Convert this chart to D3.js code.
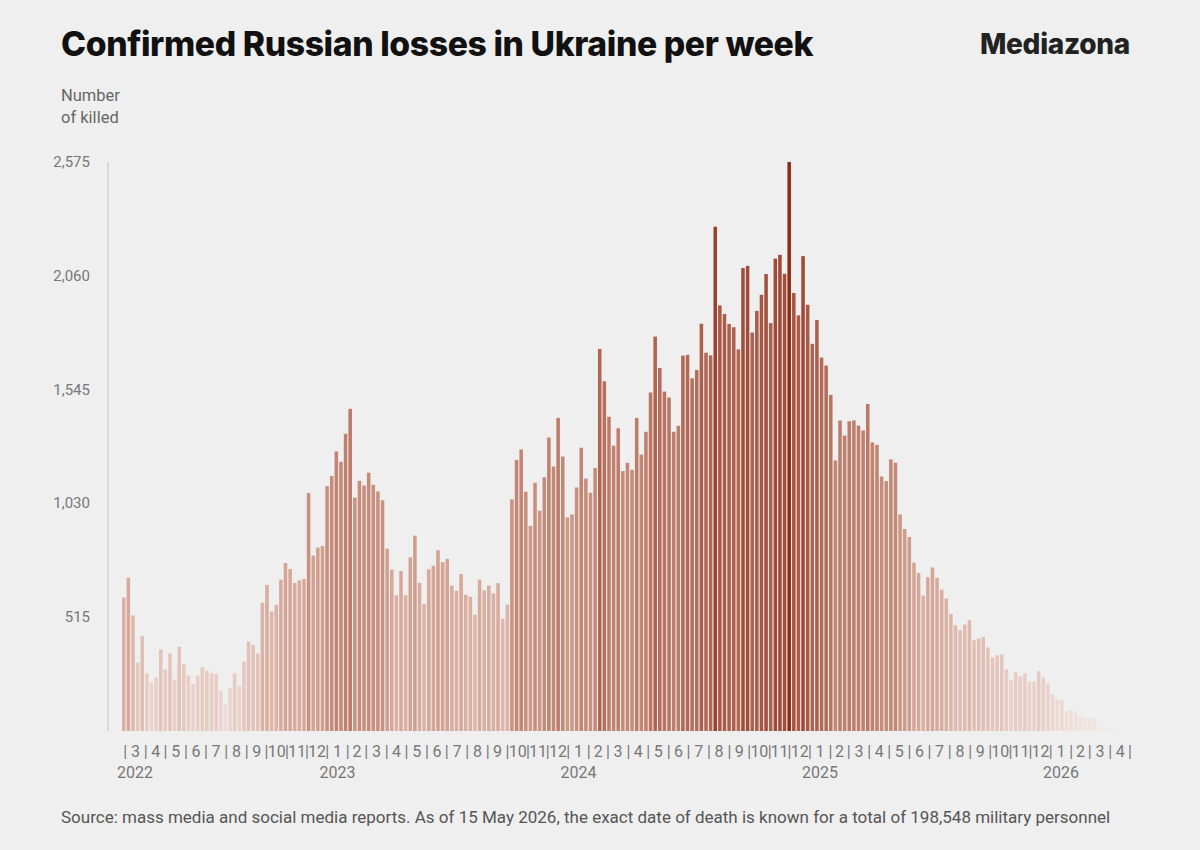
<!DOCTYPE html>
<html>
<head>
<meta charset="utf-8">
<script src="https://cdn.jsdelivr.net/npm/d3@7"></script>
<style>
  body { margin: 0; background: #efefef; }
  svg { display: block; }
</style>
</head>
<body>
<div id="chart-area"></div>
<script>
/*
*    weekly losses chart
*/

// weekly counts, first week starts 24 Feb 2022
var losses = [
    604, 694, 523, 309, 429, 261, 218, 242, 369, 279,
    351, 233, 381, 303, 251, 212, 251, 288, 273, 261,
    258, 182, 122, 194, 261, 203, 315, 405, 390, 351,
    580, 661, 541, 571, 685, 760, 733, 670, 682, 688,
    1077, 794, 830, 837, 1108, 1154, 1265, 1218, 1345, 1458,
    1056, 1132, 1111, 1169, 1114, 1084, 1044, 825, 730, 614,
    724, 614, 786, 884, 670, 575, 732, 748, 818, 764,
    779, 658, 634, 711, 617, 608, 526, 685, 636, 658,
    623, 669, 508, 572, 1048, 1227, 1274, 1083, 928, 1123,
    997, 1148, 1328, 1197, 1417, 1242, 967, 980, 1102, 1282,
    1142, 1078, 1190, 1729, 1583, 1422, 1291, 1370, 1176, 1214,
    1182, 1417, 1251, 1354, 1532, 1785, 1643, 1536, 1509, 1354,
    1381, 1699, 1702, 1596, 1634, 1843, 1712, 1700, 2282, 1926,
    1887, 1842, 1827, 1727, 2095, 2105, 1803, 1901, 1974, 2068,
    1846, 2138, 2155, 2069, 2575, 1982, 1881, 2149, 1929, 1752,
    1860, 1690, 1654, 1521, 1224, 1405, 1337, 1402, 1405, 1382,
    1360, 1480, 1306, 1295, 1152, 1131, 1229, 1214, 980, 914,
    878, 762, 715, 613, 696, 740, 693, 640, 599, 530,
    479, 456, 482, 501, 411, 419, 426, 378, 333, 343,
    346, 279, 230, 265, 248, 261, 224, 224, 270, 243,
    215, 167, 143, 140, 90, 95, 83, 65, 57, 60,
    57, 23, 12, 12, 8, 5, 3, 2, 1
];
var yTicks = [515, 1030, 1545, 2060, 2575];
var years = ["2022", "2023", "2024", "2025", "2026"];

var title = "Confirmed Russian losses in Ukraine per week";
var source = "Source: mass media and social media reports. As of 15 May 2026, the exact date of death is known for a total of 198,548 military personnel";

var start = new Date(2022, 1, 24);
var weeks = losses.map((d, i)=>{ return d3.timeDay.offset(start, i * 7); });
var end = d3.timeDay.offset(start, losses.length * 7);

var svg = d3.select("#chart-area").append("svg")
    .attr("width", 1200)
    .attr("height", 850);

svg.append("rect")
    .attr("width", 1200)
    .attr("height", 850)
    .attr("fill", "#efefef");

var x = d3.scaleTime()
    .domain([start, end])
    .range([122, 1134]);

var y = d3.scaleLinear()
    .domain([0, 2575])
    .range([731, 162]);

var color = d3.scaleLinear()
    .domain([0, 300, 800, 1500, 2575])
    .range(["#f3e8e4", "#e6c8bf", "#d3a191", "#bb7664", "#8c2d18"]);

var step = x(weeks[1]) - x(weeks[0]);

// title and logo
var t = svg.append("text")
    .attr("x", 61)
    .attr("y", 56)
    .attr("font-family", "Inter")
    .attr("font-weight", 800)
    .attr("font-size", 34)
    .attr("letter-spacing", -0.4)
    .attr("fill", "#111")
    .text(title);
var tw = t.node().getComputedTextLength();
if (tw > 752) t.attr("textLength", 752).attr("lengthAdjust", "spacingAndGlyphs");

svg.append("text")
    .attr("x", 1130)
    .attr("y", 54)
    .attr("text-anchor", "end")
    .attr("font-family", "Inter")
    .attr("font-weight", 800)
    .attr("font-size", 28)
    .attr("letter-spacing", -0.3)
    .attr("fill", "#222")
    .text("Mediazona");

svg.append("text")
    .attr("font-family", "Roboto")
    .attr("font-size", 16.5)
    .attr("fill", "#666")
    .selectAll("tspan")
    .data(["Number", "of killed"])
    .enter()
    .append("tspan")
        .attr("x", 61)
        .attr("y", (d, i)=>{ return 101 + i * 22; })
        .text((d)=>{ return d; });

// y axis
svg.append("line")
    .attr("x1", 108).attr("x2", 108)
    .attr("y1", y(2575)).attr("y2", y(0))
    .attr("stroke", "#c4c4c4")
    .attr("stroke-width", 1);

svg.selectAll(".ytick")
    .data(yTicks)
    .enter()
    .append("text")
        .attr("class", "ytick")
        .attr("x", 90)
        .attr("y", (d)=>{ return y(d) + 5; })
        .attr("text-anchor", "end")
        .attr("font-family", "Roboto")
        .attr("font-size", 15)
        .attr("fill", "#777")
        .text((d)=>{ return d3.format(",")(d); });

// bars
svg.selectAll(".bar")
    .data(losses)
    .enter()
    .append("rect")
        .attr("class", "bar")
        .attr("x", (d, i)=>{ return x(weeks[i]); })
        .attr("y", (d)=>{ return y(d); })
        .attr("width", step - 1.1)
        .attr("height", (d)=>{ return y(0) - y(d); })
        .attr("fill", (d)=>{ return color(d); });

// month separators and labels
var months = d3.timeMonth.range(new Date(2022, 2, 1), new Date(2026, 4, 2));

svg.selectAll(".sep")
    .data(months)
    .enter()
    .append("text")
        .attr("class", "sep")
        .attr("x", (d)=>{ return x(d); })
        .attr("y", 757)
        .attr("text-anchor", "middle")
        .attr("font-family", "Roboto")
        .attr("font-size", 16)
        .attr("fill", "#777")
        .text("|");

var labelled = months.slice(0, months.length - 1);

svg.selectAll(".month")
    .data(labelled)
    .enter()
    .append("text")
        .attr("class", "month")
        .attr("x", (d)=>{ return (x(d) + x(d3.timeMonth.offset(d, 1))) / 2; })
        .attr("y", 757)
        .attr("text-anchor", "middle")
        .attr("font-family", "Roboto")
        .attr("font-size", 16)
        .attr("fill", "#777")
        .text((d)=>{ return d.getMonth() + 1; });

svg.selectAll(".year")
    .data(years)
    .enter()
    .append("text")
        .attr("class", "year")
        .attr("x", (d, i)=>{
            if (i == 0) return 117;
            var jan = new Date(+d, 0, 1);
            return (x(jan) + x(new Date(+d, 1, 1))) / 2;
        })
        .attr("y", 778)
        .attr("text-anchor", (d, i)=>{ return i == 0 ? "start" : "middle"; })
        .attr("font-family", "Roboto")
        .attr("font-size", 16)
        .attr("fill", "#777")
        .text((d)=>{ return d; });

// footer
svg.append("text")
    .attr("x", 61)
    .attr("y", 823)
    .attr("font-family", "Roboto")
    .attr("font-size", 17)
    .attr("fill", "#555")
    .text(source);
</script>
</body>
</html>
